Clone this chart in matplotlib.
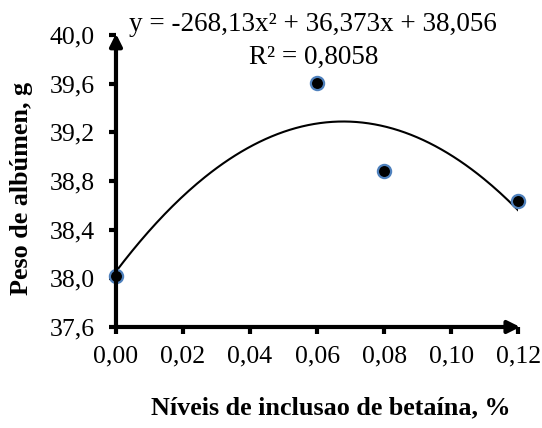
import numpy as np
import matplotlib
matplotlib.use("Agg")
import matplotlib.pyplot as plt

x_levels = [0.00, 0.06, 0.08, 0.12]
albumen_weight = [38.02, 39.61, 38.88, 38.64]
coef = [-268.13, 36.373, 38.056]
x_ticks = [0.00, 0.02, 0.04, 0.06, 0.08, 0.10, 0.12]
x_tick_labels = ["0,00", "0,02", "0,04", "0,06", "0,08", "0,10", "0,12"]
y_ticks = [37.6, 38.0, 38.4, 38.8, 39.2, 39.6, 40.0]
y_tick_labels = ["37,6", "38,0", "38,4", "38,8", "39,2", "39,6", "40,0"]

plt.rcParams['font.family'] = ['Liberation Serif', 'DejaVu Serif']

fig = plt.figure(figsize=(5.42, 4.28), dpi=100)
ax = fig.add_axes([0.214, 0.236, 0.742, 0.682])

xs = np.linspace(0, 0.12, 200)
ys = np.polyval(coef, xs)
ax.plot(xs, ys, color='black', lw=1.5, zorder=2)
ax.plot(x_levels, albumen_weight, 'o', ms=9.5, mfc='black', mec='#4f81bd', mew=1.6,
        linestyle='none', zorder=3, clip_on=False)

ax.set_xlim(0, 0.12)
ax.set_ylim(37.6, 40.0)
ax.set_xticks(x_ticks)
ax.set_xticklabels(x_tick_labels, fontsize=18.5)
ax.set_yticks(y_ticks)
ax.set_yticklabels(y_tick_labels, fontsize=18.5)
ax.tick_params(axis='x', direction='out', length=5, width=3, pad=8)
ax.tick_params(axis='y', direction='out', length=5, width=3, pad=10.5)

for s in ['top', 'right', 'left', 'bottom']:
    ax.spines[s].set_visible(False)

ax.annotate('', xy=(1.005, 0), xytext=(0, 0), xycoords='axes fraction',
            arrowprops=dict(arrowstyle='-|>', lw=3, color='black',
                            mutation_scale=18, shrinkA=0, shrinkB=0))
ax.annotate('', xy=(0, 1.005), xytext=(0, 0), xycoords='axes fraction',
            arrowprops=dict(arrowstyle='-|>', lw=3, color='black',
                            mutation_scale=18, shrinkA=0, shrinkB=0))

fig.text(0.578, 0.942, "y = -268,13x² + 36,373x + 38,056", fontsize=19.5,
         ha='center', va='center')
fig.text(0.578, 0.866, "R² = 0,8058", fontsize=19.5, ha='center', va='center')

fig.text(0.04, 0.56, "Peso de albúmen, g", fontsize=18.8, fontweight='bold',
         rotation=90, ha='center', va='center')
fig.text(0.611, 0.047, "Níveis de inclusao de betaína, %", fontsize=18.8,
         fontweight='bold', ha='center', va='center')

fig.savefig("out.png", dpi=100)
